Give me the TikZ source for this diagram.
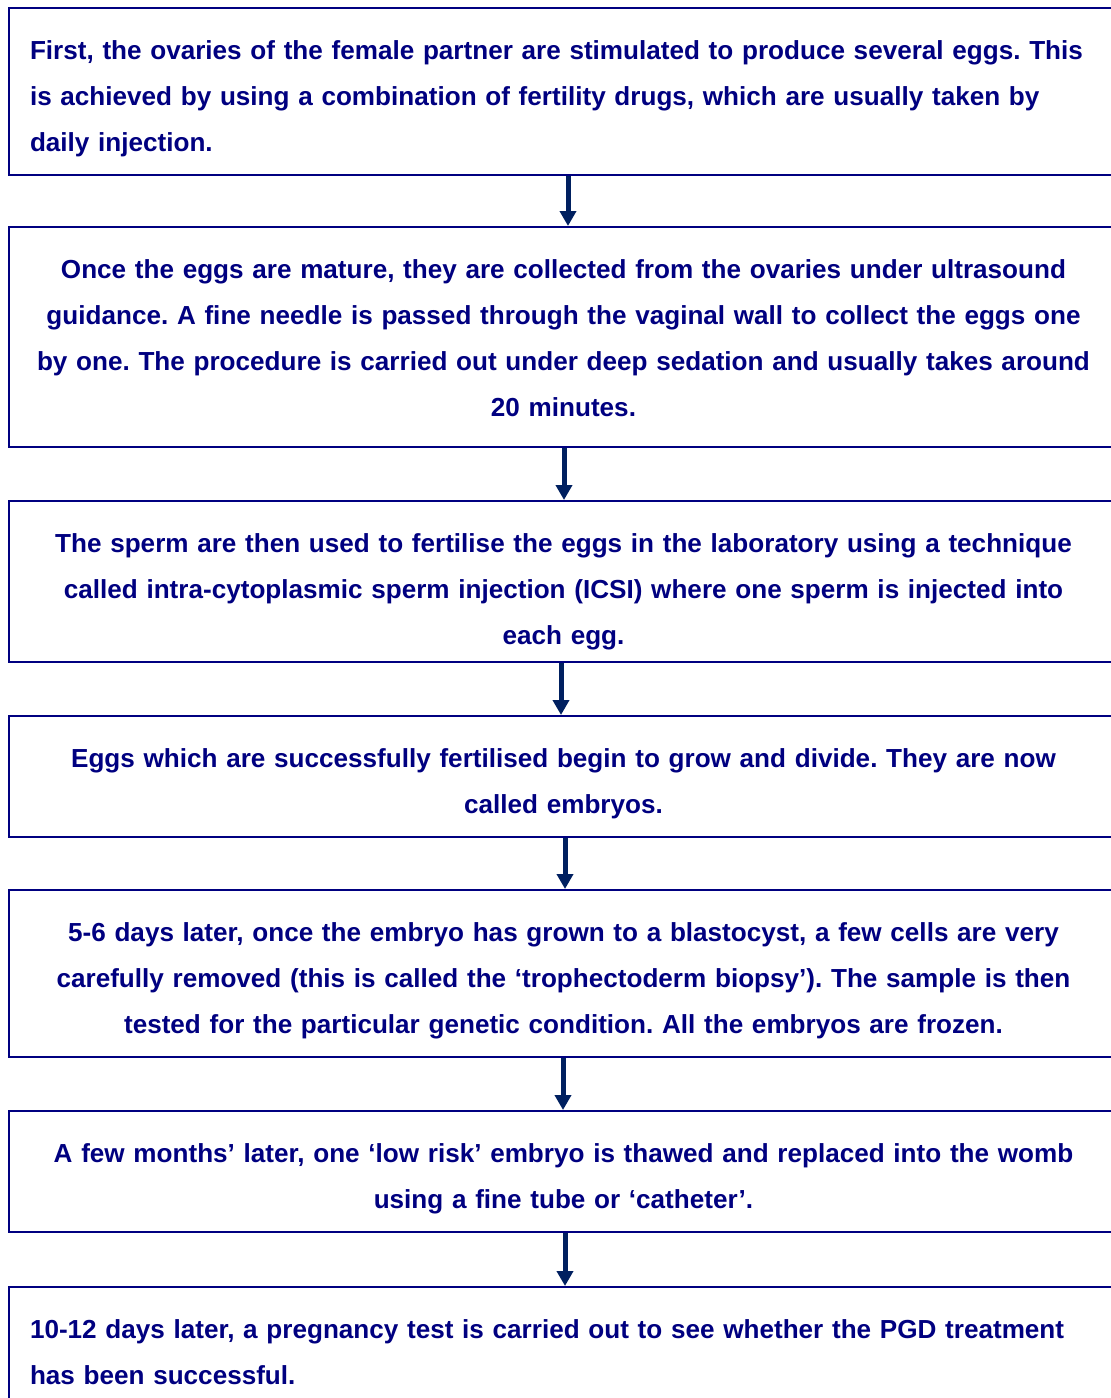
\documentclass[tikz,border=0pt]{standalone}
\usepackage{fontspec}
\setmainfont{Liberation Sans}
\usepackage{xcolor}
\usepackage{tikz}
\usetikzlibrary{arrows.meta}
\definecolor{stepnavy}{RGB}{0,0,128}
\definecolor{arrownavy}{RGB}{0,32,96}
\frenchspacing
\hyphenpenalty=10000

\begin{document}
\begin{tikzpicture}[x=1pt,y=-1pt,
    stepbox/.style={draw=stepnavy, line width=2pt, text=stepnavy,
      font=\fontsize{26.1}{46}\selectfont\bfseries,
      text width=1067pt, inner xsep=21pt, inner ysep=0pt,
      anchor=north, align=center,
      execute at begin node={\rule{0pt}{51.5pt}},
      execute at end node={\rule[-#1]{0pt}{#1}}},
    stepbox/.default=23pt,
    flow/.style={arrownavy, line width=5pt, -{Triangle[width=16pt,length=15pt]}}]
    \useasboundingbox[fill=white] (0,0) rectangle (1111,1398);
    % the steps
    \node[stepbox, align=left] (s1) at (563.5,7) {First, the ovaries of the female partner are stimulated to produce several eggs. This\\ is achieved by using a combination of fertility drugs, which are usually taken by\\ daily injection.};
    \node[stepbox=30pt] (s2) at (563.5,226) {Once the eggs are mature, they are collected from the ovaries under ultrasound\\ guidance. A fine needle is passed through the vaginal wall to collect the eggs one\\ by one. The procedure is carried out under deep sedation and usually takes around\\ 20 minutes.};
    \node[stepbox=17pt] (s3) at (563.5,500) {The sperm are then used to fertilise the eggs in the laboratory using a technique\\ called intra-cytoplasmic sperm injection (ICSI) where one sperm is injected into\\ each egg.};
    \node[stepbox] (s4) at (563.5,715) {Eggs which are successfully fertilised begin to grow and divide. They are now\\ called embryos.};
    \node[stepbox] (s5) at (563.5,889) {5-6 days later, once the embryo has grown to a blastocyst, a few cells are very\\ carefully removed (this is called the ‘trophectoderm biopsy’). The sample is then\\ tested for the particular genetic condition. All the embryos are frozen.};
    \node[stepbox] (s6) at (563.5,1110) {A few months’ later, one ‘low risk’ embryo is thawed and replaced into the womb\\ using a fine tube or ‘catheter’.};
    \node[stepbox, align=left] (s7) at (563.5,1286) {10-12 days later, a pregnancy test is carried out to see whether the PGD treatment\\ has been successful.};
    % arrows
    \draw[flow] ([xshift=4.5pt]s1.south) -- ([xshift=4.5pt]s2.north);
    \draw[flow] ([xshift=0.5pt]s2.south) -- ([xshift=0.5pt]s3.north);
    \draw[flow] ([xshift=-2.5pt]s3.south) -- ([xshift=-2.5pt]s4.north);
    \draw[flow] ([xshift=1.5pt]s4.south) -- ([xshift=1.5pt]s5.north);
    \draw[flow] ([xshift=-0.5pt]s5.south) -- ([xshift=-0.5pt]s6.north);
    \draw[flow] ([xshift=1.5pt]s6.south) -- ([xshift=1.5pt]s7.north);
  \end{tikzpicture}
\end{document}
